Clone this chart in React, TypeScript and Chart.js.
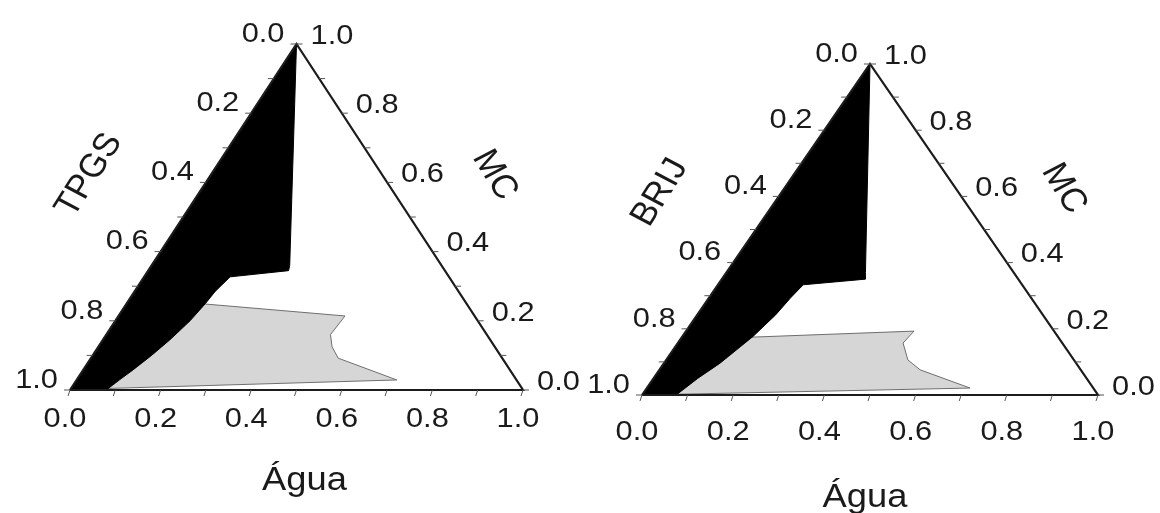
import React, { useEffect, useRef } from "react";
import { Chart, registerables } from "chart.js";

Chart.register(...registerables);

// Axis ticks (fractions) shared by the three ternary axes
const tickValues = [0, 0.2, 0.4, 0.6, 0.8, 1.0];
const tickLabels = ["0.0", "0.2", "0.4", "0.6", "0.8", "1.0"];
const minorTickValues = [0.1, 0.3, 0.5, 0.7, 0.9];

// Triangle frame as compositions (fraction of Água, fraction of MC)
const triangleAgua = [0, 1, 0, 0];
const triangleMC = [0, 0, 1, 0];

// TPGS diagram: black region boundary (Água, MC)
const tpgsBlackAgua = [0, 0, 0.08, 0.095, 0.11, 0.13, 0.148, 0.165, 0.174, 0.178, 0.19, 0.31, 0.305, 0];
const tpgsBlackMC = [1, 0, 0, 0.03, 0.058, 0.1, 0.145, 0.2, 0.25, 0.285, 0.327, 0.345, 0.36, 1];
// TPGS diagram: grey region boundary (Água, MC)
const tpgsGrayAgua = [0.05, 0.16, 0.5, 0.495, 0.516, 0.546, 0.707, 0.07, 0.05];
const tpgsGrayMC = [0, 0.25, 0.214, 0.16, 0.125, 0.092, 0.029, 0.004, 0];

// BRIJ diagram: black region boundary (Água, MC)
const brijBlackAgua = [0, 0, 0.075, 0.097, 0.123, 0.155, 0.172, 0.179, 0.187, 0.315, 0.305, 0];
const brijBlackMC = [1, 0, 0, 0.05, 0.096, 0.177, 0.242, 0.293, 0.333, 0.35, 0.37, 1];
// BRIJ diagram: grey region boundary (Água, MC)
const brijGrayAgua = [0.045, 0.1, 0.5, 0.494, 0.53, 0.572, 0.709, 0.065, 0.045];
const brijGrayMC = [0, 0.172, 0.193, 0.157, 0.106, 0.076, 0.021, 0.002, 0];

const STRETCH = 1.1;
const FONT = '"Liberation Sans", Arial, sans-serif';
const TEXT_COLOR = "#1a1a1a";

type Panel = {
  surfactant: string;
  blackAgua: number[];
  blackMC: number[];
  grayAgua: number[];
  grayMC: number[];
  padding: { left: number; right: number; top: number; bottom: number };
  bottomLabelDy: number;
  surfTitle: [number, number];
  mcTitle: [number, number];
  aguaTitle: [number, number];
};

const panels: Panel[] = [
  {
    surfactant: "TPGS",
    blackAgua: tpgsBlackAgua,
    blackMC: tpgsBlackMC,
    grayAgua: tpgsGrayAgua,
    grayMC: tpgsGrayMC,
    padding: { left: 70, right: 1160 - 523, top: 44, bottom: 513 - 390 },
    bottomLabelDy: 29,
    surfTitle: [-94, -42],
    mcTitle: [85, -42],
    aguaTitle: [8, 91],
  },
  {
    surfactant: "BRIJ",
    blackAgua: brijBlackAgua,
    blackMC: brijBlackMC,
    grayAgua: brijGrayAgua,
    grayMC: brijGrayMC,
    padding: { left: 642, right: 1160 - 1098, top: 64, bottom: 513 - 395 },
    bottomLabelDy: 37,
    surfTitle: [-96, -37],
    mcTitle: [80, -41],
    aguaTitle: [-5, 103],
  },
];

const toPoints = (agua: number[], mc: number[]) =>
  agua.map((w, i) => ({ x: w + 0.5 * mc[i], y: mc[i] }));

function drawText(
  ctx: CanvasRenderingContext2D,
  text: string,
  x: number,
  y: number,
  align: CanvasTextAlign,
  rot = 0
) {
  ctx.save();
  ctx.translate(x, y);
  ctx.scale(STRETCH, 1);
  if (rot) ctx.rotate(rot);
  ctx.textAlign = align;
  ctx.textBaseline = "middle";
  ctx.fillText(text, 0, 0);
  ctx.restore();
}

function ternaryAxes(panel: Panel) {
  return {
    id: "ternaryAxes",
    afterDraw(chart: any) {
      const ctx: CanvasRenderingContext2D = chart.ctx;
      const xs = chart.scales.x;
      const ys = chart.scales.y;
      const P = (w: number, m: number): [number, number] => [
        xs.getPixelForValue(w + 0.5 * m),
        ys.getPixelForValue(m),
      ];
      ctx.save();
      // tick marks
      ctx.strokeStyle = "#555";
      ctx.lineWidth = 1;
      const all = [...tickValues, ...minorTickValues];
      all.forEach((v) => {
        let [x, y] = P(v, 0);
        ctx.beginPath();
        ctx.moveTo(x, y);
        ctx.lineTo(x - 2, y + 6);
        ctx.stroke();
        [x, y] = P(0, 1 - v);
        ctx.beginPath();
        ctx.moveTo(x, y);
        ctx.lineTo(x - 6, y);
        ctx.stroke();
        [x, y] = P(1 - v, v);
        ctx.beginPath();
        ctx.moveTo(x, y);
        ctx.lineTo(x + 6, y);
        ctx.stroke();
      });
      // tick labels
      ctx.fillStyle = TEXT_COLOR;
      ctx.font = `28px ${FONT}`;
      tickValues.forEach((v, i) => {
        const lab = tickLabels[i];
        let [x, y] = P(v, 0);
        drawText(ctx, lab, x - 5, y + panel.bottomLabelDy, "center");
        [x, y] = P(0, 1 - v);
        drawText(ctx, lab, x - 12, y - 10, "right");
        [x, y] = P(1 - v, v);
        drawText(ctx, lab, x + 14, y - 8, "left");
      });
      // axis titles
      ctx.font = `33px ${FONT}`;
      let [x, y] = P(0, 0.5);
      drawText(ctx, panel.surfactant, x + panel.surfTitle[0], y + panel.surfTitle[1], "center", -Math.PI / 3);
      [x, y] = P(0.5, 0.5);
      drawText(ctx, "MC", x + panel.mcTitle[0], y + panel.mcTitle[1], "center", Math.PI / 3);
      [x, y] = P(0.5, 0);
      drawText(ctx, "Água", x + panel.aguaTitle[0], y + panel.aguaTitle[1], "center");
      ctx.restore();
    },
  };
}

function TernaryPanel({ panel }: { panel: Panel }) {
  const ref = useRef<HTMLCanvasElement>(null);
  useEffect(() => {
    const canvas = ref.current;
    if (!canvas) return;
    const chart = new Chart(canvas, {
      type: "scatter",
      data: {
        datasets: [
          {
            label: "frame",
            data: toPoints(triangleAgua, triangleMC),
            showLine: true,
            borderColor: "#1c1c1c",
            borderWidth: 2.2,
            pointRadius: 0,
            fill: false,
            clip: false,
            tension: 0,
            borderJoinStyle: "miter",
          },
          {
            label: "black",
            data: toPoints(panel.blackAgua, panel.blackMC),
            showLine: true,
            borderColor: "#000",
            borderWidth: 1,
            backgroundColor: "#000",
            pointRadius: 0,
            fill: "shape",
            clip: false,
            tension: 0,
          },
          {
            label: "grey",
            data: toPoints(panel.grayAgua, panel.grayMC),
            showLine: true,
            borderColor: "#6e6e6e",
            borderWidth: 1,
            backgroundColor: "#d6d6d6",
            pointRadius: 0,
            fill: "shape",
            clip: false,
            tension: 0,
          },
        ],
      } as any,
      options: {
        animation: false,
        responsive: false,
        events: [],
        layout: { padding: panel.padding },
        scales: {
          x: { type: "linear", min: 0, max: 1, display: false },
          y: { type: "linear", min: 0, max: 1, display: false },
        },
        plugins: {
          legend: { display: false },
          tooltip: { enabled: false },
          title: { display: false },
        },
      } as any,
      plugins: [ternaryAxes(panel)],
    });
    return () => chart.destroy();
  }, [panel]);
  return (
    <canvas
      ref={ref}
      width={1160}
      height={513}
      style={{ position: "absolute", left: 0, top: 0, width: 1160, height: 513 }}
    />
  );
}

export default function App() {
  return (
    <div
      style={{
        position: "absolute",
        left: 0,
        top: 0,
        width: 1160,
        height: 513,
        background: "#fff",
        overflow: "hidden",
      }}
    >
      {panels.map((p) => (
        <TernaryPanel key={p.surfactant} panel={p} />
      ))}
    </div>
  );
}
